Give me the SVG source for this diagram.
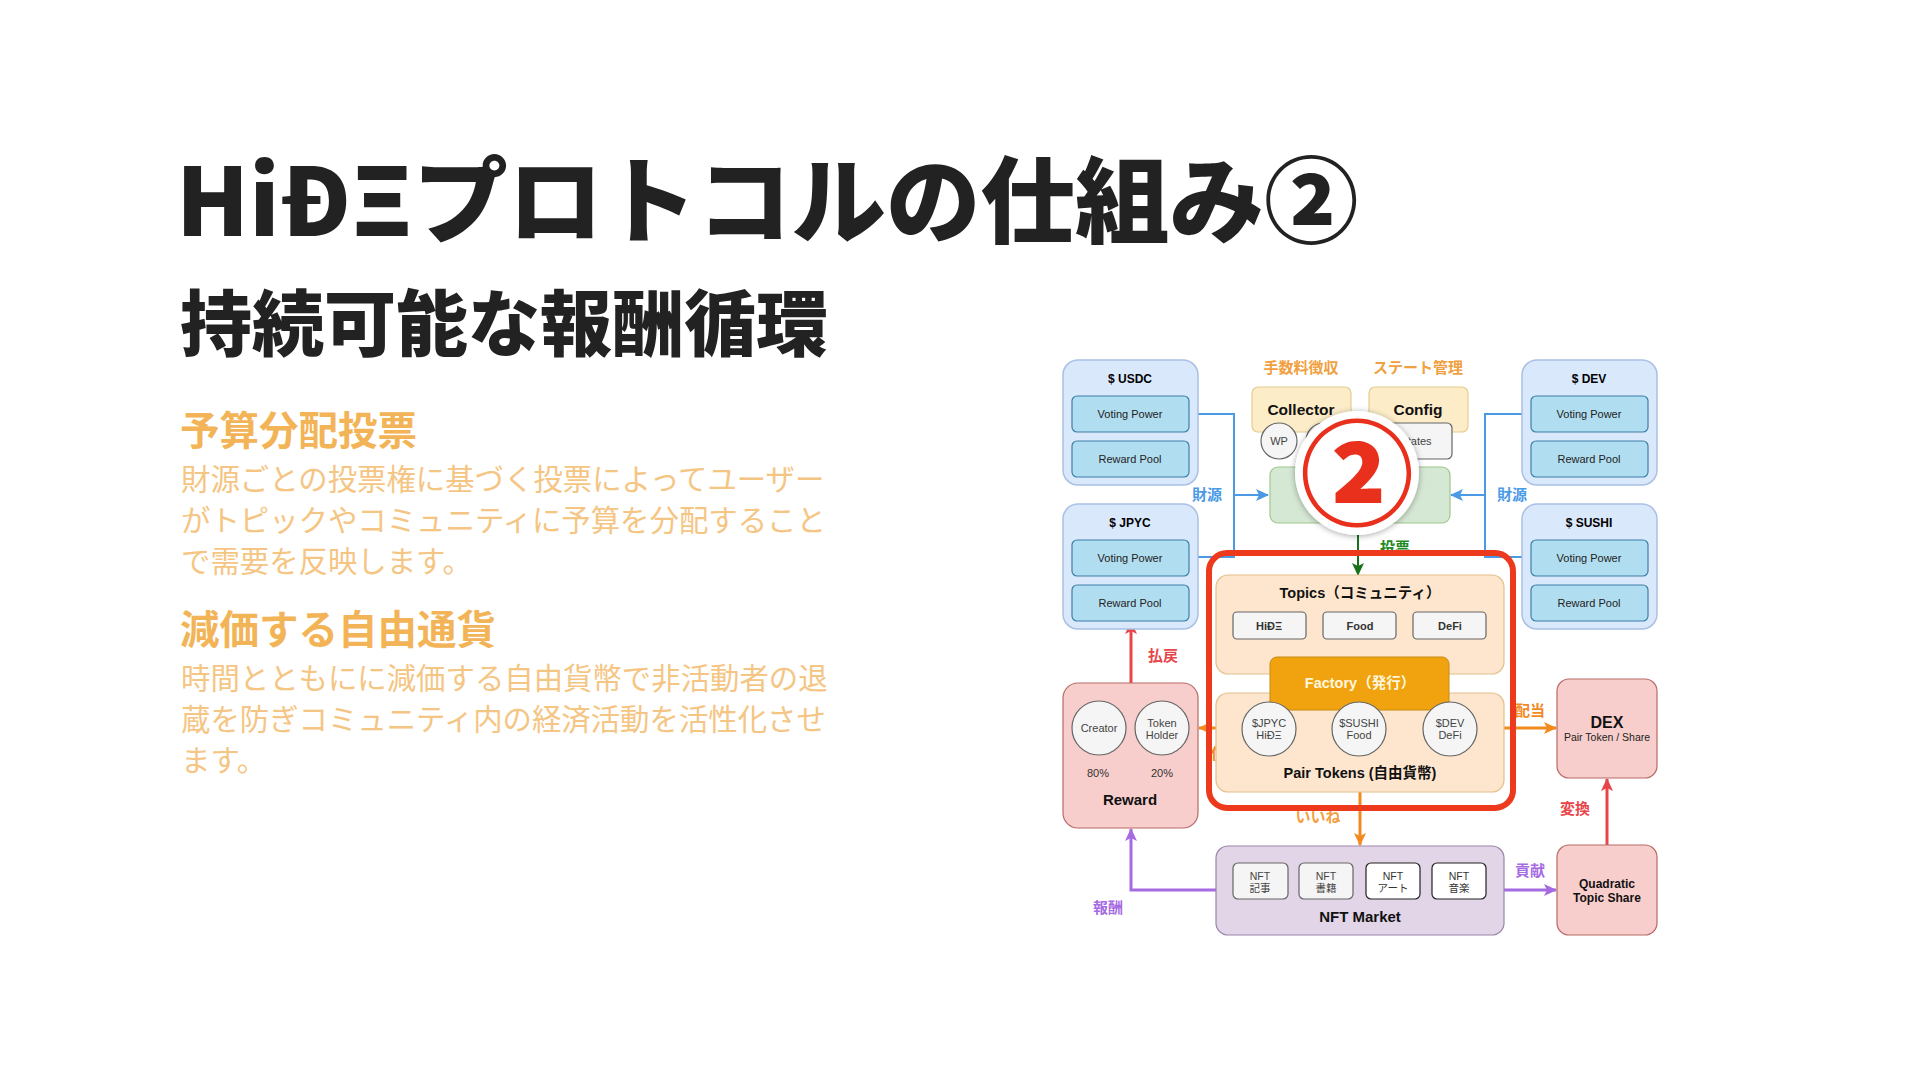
<svg xmlns="http://www.w3.org/2000/svg" width="1920" height="1080" viewBox="0 0 1920 1080">
<defs>
<style>
.title{font-family:"Noto Sans CJK JP","Noto Sans",sans-serif;font-weight:900;fill:#222}
.head{font-family:"Noto Sans CJK JP",sans-serif;font-weight:700;fill:#F2B457}
.body{font-family:"Noto Sans CJK JP",sans-serif;font-weight:400;fill:#F5C583}
.d{font-family:"Liberation Sans","Noto Sans CJK JP",sans-serif;text-anchor:middle}
.b{font-weight:700}
.tok{fill:#dae8fc;stroke:#a9c0e4;stroke-width:1.5}
.inner{fill:#b1ddf0;stroke:#3f7fa8;stroke-width:1.2}
.yel{fill:#fcecc8;stroke:#e6cc8e;stroke-width:1.2}
.gray{fill:#f5f5f5;stroke:#666;stroke-width:1.2}
.grn{fill:#d5e8d4;stroke:#9fc78c;stroke-width:1.2}
.peach{fill:#fde6cd;stroke:#e2c08c;stroke-width:1.2}
.pink{fill:#f8cecc;stroke:#b86a66;stroke-width:1.2}
.purp{fill:#e1d5e7;stroke:#9b84ab;stroke-width:1.2}
.lbl{font-family:"Noto Sans CJK JP",sans-serif;font-weight:700;font-size:15px;text-anchor:middle}
</style>
<marker id="aBlue" markerUnits="userSpaceOnUse" markerWidth="14" markerHeight="12" refX="12" refY="6" orient="auto"><path d="M0,0 L13,6 L0,12 L3,6 Z" fill="#4a9ae6"/></marker>
<marker id="aGreen" markerUnits="userSpaceOnUse" markerWidth="14" markerHeight="12" refX="12" refY="6" orient="auto"><path d="M0,0 L13,6 L0,12 L3,6 Z" fill="#16731a"/></marker>
<marker id="aRed" markerUnits="userSpaceOnUse" markerWidth="14" markerHeight="12" refX="12" refY="6" orient="auto"><path d="M0,0 L13,6 L0,12 L3,6 Z" fill="#e8454b"/></marker>
<marker id="aOrange" markerUnits="userSpaceOnUse" markerWidth="14" markerHeight="12" refX="12" refY="6" orient="auto"><path d="M0,0 L13,6 L0,12 L3,6 Z" fill="#f28a1e"/></marker>
<marker id="aPurple" markerUnits="userSpaceOnUse" markerWidth="14" markerHeight="12" refX="12" refY="6" orient="auto"><path d="M0,0 L13,6 L0,12 L3,6 Z" fill="#a66be3"/></marker>
<filter id="sh" x="-30%" y="-30%" width="160%" height="160%"><feGaussianBlur in="SourceAlpha" stdDeviation="3"/><feOffset dx="0" dy="1"/><feComponentTransfer><feFuncA type="linear" slope="0.35"/></feComponentTransfer><feMerge><feMergeNode/><feMergeNode in="SourceGraphic"/></feMerge></filter>
</defs>
<rect width="1920" height="1080" fill="#fff"/>

<g id="title">
<text class="title" x="176" y="236" font-size="94.5">HiĐΞプロトコルの仕組み②</text>
<text class="title" x="180" y="350" font-size="72">持続可能な報酬循環</text>
</g>
<g id="section1">
<text class="head" x="180" y="445" font-size="39.5">予算分配投票</text>
<text class="body" x="181" y="490" font-size="29.4">財源ごとの投票権に基づく投票によってユーザー</text>
<text class="body" x="181" y="531" font-size="29.4">がトピックやコミュニティに予算を分配すること</text>
<text class="body" x="181" y="572" font-size="29.4">で需要を反映します。</text>
</g>
<g id="section2">
<text class="head" x="180" y="644" font-size="39.5">減価する自由通貨</text>
<text class="body" x="181" y="689" font-size="29.4">時間とともにに減価する自由貨幣で非活動者の退</text>
<text class="body" x="181" y="730" font-size="29.4">蔵を防ぎコミュニティ内の経済活動を活性化させ</text>
<text class="body" x="181" y="771" font-size="29.4">ます。</text>
</g>

<g id="connectors" fill="none">
<path d="M1198,414 H1234 V557 H1198" stroke="#4a9ae6" stroke-width="2"/>
<path d="M1234,495 H1268" stroke="#4a9ae6" stroke-width="2" marker-end="url(#aBlue)"/>
<path d="M1522,414 H1485 V557 H1522" stroke="#4a9ae6" stroke-width="2"/>
<path d="M1485,495 H1451" stroke="#4a9ae6" stroke-width="2" marker-end="url(#aBlue)"/>
<path d="M1358,523 V575" stroke="#16731a" stroke-width="2" marker-end="url(#aGreen)"/>
<path d="M1131,683 V622" stroke="#e8454b" stroke-width="3" marker-end="url(#aRed)"/>
<path d="M1242,728 H1199" stroke="#f28a1e" stroke-width="3" marker-end="url(#aOrange)"/>
<path d="M1477,728 H1556" stroke="#f28a1e" stroke-width="3" marker-end="url(#aOrange)"/>
<path d="M1360,792 V845" stroke="#f28a1e" stroke-width="3" marker-end="url(#aOrange)"/>
<path d="M1216,890 H1131 V829" stroke="#a66be3" stroke-width="3" marker-end="url(#aPurple)"/>
<path d="M1504,890 H1556" stroke="#a66be3" stroke-width="3" marker-end="url(#aPurple)"/>
<path d="M1607,845 V779" stroke="#e8454b" stroke-width="3" marker-end="url(#aRed)"/>
</g>

<g id="edge-labels" class="lbl">
<text x="1207" y="500" fill="#4a9ae6">財源</text>
<text x="1512" y="500" fill="#4a9ae6">財源</text>
<text x="1395" y="553" fill="#1f8a25">投票</text>
<text x="1163" y="661" fill="#e8454b">払戻</text>
<text x="1226" y="759" fill="#f28a1e">償却</text>
<text x="1530" y="716" fill="#f28a1e">配当</text>
<text x="1318" y="822" fill="#f5a040">いいね</text>
<text x="1575" y="814" fill="#e8454b">変換</text>
<text x="1530" y="876" fill="#a66be3">貢献</text>
<text x="1108" y="913" fill="#a66be3">報酬</text>
</g>

<g id="usdc">
<rect class="tok" x="1063" y="360" width="135" height="125" rx="15"/>
<text class="d b" x="1130" y="383" font-size="12">$ USDC</text>
<rect class="inner" x="1072" y="396" width="117" height="36" rx="5"/>
<text class="d" x="1130" y="418" font-size="11" fill="#222">Voting Power</text>
<rect class="inner" x="1072" y="441" width="117" height="36" rx="5"/>
<text class="d" x="1130" y="463" font-size="11" fill="#222">Reward Pool</text>
</g>
<g id="jpyc">
<rect class="tok" x="1063" y="504" width="135" height="125" rx="15"/>
<text class="d b" x="1130" y="527" font-size="12">$ JPYC</text>
<rect class="inner" x="1072" y="540" width="117" height="36" rx="5"/>
<text class="d" x="1130" y="562" font-size="11" fill="#222">Voting Power</text>
<rect class="inner" x="1072" y="585" width="117" height="36" rx="5"/>
<text class="d" x="1130" y="607" font-size="11" fill="#222">Reward Pool</text>
</g>
<g id="dev">
<rect class="tok" x="1522" y="360" width="135" height="125" rx="15"/>
<text class="d b" x="1589" y="383" font-size="12">$ DEV</text>
<rect class="inner" x="1531" y="396" width="117" height="36" rx="5"/>
<text class="d" x="1589" y="418" font-size="11" fill="#222">Voting Power</text>
<rect class="inner" x="1531" y="441" width="117" height="36" rx="5"/>
<text class="d" x="1589" y="463" font-size="11" fill="#222">Reward Pool</text>
</g>
<g id="sushi">
<rect class="tok" x="1522" y="504" width="135" height="125" rx="15"/>
<text class="d b" x="1589" y="527" font-size="12">$ SUSHI</text>
<rect class="inner" x="1531" y="540" width="117" height="36" rx="5"/>
<text class="d" x="1589" y="562" font-size="11" fill="#222">Voting Power</text>
<rect class="inner" x="1531" y="585" width="117" height="36" rx="5"/>
<text class="d" x="1589" y="607" font-size="11" fill="#222">Reward Pool</text>
</g>

<g id="collector">
<text class="lbl" x="1301" y="373" fill="#f0a040" font-size="14">手数料徴収</text>
<rect class="yel" x="1252" y="387" width="99" height="45" rx="6"/>
<text class="d b" x="1301" y="415" font-size="15.5" fill="#111">Collector</text>
<circle class="gray" cx="1279" cy="441" r="18"/>
<text class="d" x="1279" y="445" font-size="11" fill="#444">WP</text>
<circle class="gray" cx="1324" cy="441" r="18"/>
</g>
<g id="config">
<text class="lbl" x="1418" y="373" fill="#f0a040" font-size="14">ステート管理</text>
<rect class="yel" x="1369" y="387" width="99" height="45" rx="6"/>
<text class="d b" x="1418" y="415" font-size="15.5" fill="#111">Config</text>
<rect class="gray" x="1380" y="423" width="72" height="36" rx="5"/>
<text class="d" x="1416" y="445" font-size="11" fill="#444">States</text>
</g>
<g id="voting">
<rect class="grn" x="1270" y="467" width="180" height="56" rx="8"/>
</g>

<g id="topics">
<rect class="peach" x="1216" y="575" width="288" height="99" rx="12"/>
<text class="d b" x="1360" y="598" font-size="14.5" fill="#111">Topics（コミュニティ）</text>
<rect class="gray" x="1233" y="612" width="73" height="27" rx="4" stroke="#888"/>
<text class="d b" x="1269" y="630" font-size="11" fill="#333">HiĐΞ</text>
<rect class="gray" x="1323" y="612" width="73" height="27" rx="4" stroke="#888"/>
<text class="d b" x="1360" y="630" font-size="11" fill="#333">Food</text>
<rect class="gray" x="1413" y="612" width="73" height="27" rx="4" stroke="#888"/>
<text class="d b" x="1450" y="630" font-size="11" fill="#333">DeFi</text>
</g>
<g id="pairtokens">
<rect class="peach" x="1216" y="693" width="288" height="99" rx="12"/>
<text class="d b" x="1360" y="778" font-size="14.5" fill="#111">Pair Tokens (自由貨幣)</text>
</g>
<g id="factory">
<rect x="1270" y="657" width="179" height="53" rx="7" fill="#f0a30f" stroke="#c98a10" stroke-width="1"/>
<text class="d b" x="1360" y="688" font-size="14.5" fill="#fff6dd">Factory（発行）</text>
</g>
<g id="pair-circles">
<circle class="gray" cx="1269" cy="729" r="27"/>
<text class="d" x="1269" y="727" font-size="11" fill="#444">$JPYC</text>
<text class="d" x="1269" y="739" font-size="11" fill="#444">HiĐΞ</text>
<circle class="gray" cx="1359" cy="729" r="27"/>
<text class="d" x="1359" y="727" font-size="11" fill="#444">$SUSHI</text>
<text class="d" x="1359" y="739" font-size="11" fill="#444">Food</text>
<circle class="gray" cx="1450" cy="729" r="27"/>
<text class="d" x="1450" y="727" font-size="11" fill="#444">$DEV</text>
<text class="d" x="1450" y="739" font-size="11" fill="#444">DeFi</text>
</g>

<g id="reward">
<rect class="pink" x="1063" y="683" width="135" height="145" rx="15"/>
<circle class="gray" cx="1099" cy="728" r="27"/>
<text class="d" x="1099" y="732" font-size="11" fill="#444">Creator</text>
<circle class="gray" cx="1162" cy="728" r="27"/>
<text class="d" x="1162" y="727" font-size="11" fill="#444">Token</text>
<text class="d" x="1162" y="739" font-size="11" fill="#444">Holder</text>
<text class="d" x="1098" y="777" font-size="11" fill="#333">80%</text>
<text class="d" x="1162" y="777" font-size="11" fill="#333">20%</text>
<text class="d b" x="1130" y="805" font-size="15" fill="#111">Reward</text>
</g>
<g id="dex">
<rect class="pink" x="1557" y="679" width="100" height="99" rx="12"/>
<text class="d b" x="1607" y="728" font-size="16" fill="#111">DEX</text>
<text class="d" x="1607" y="741" font-size="10.5" fill="#222">Pair Token / Share</text>
</g>
<g id="quadratic">
<rect class="pink" x="1557" y="845" width="100" height="90" rx="12"/>
<text class="d b" x="1607" y="888" font-size="12" fill="#111">Quadratic</text>
<text class="d b" x="1607" y="902" font-size="12" fill="#111">Topic Share</text>
</g>
<g id="nftmarket">
<rect class="purp" x="1216" y="846" width="288" height="89" rx="12"/>
<rect class="gray" x="1233" y="863" width="55" height="36" rx="5" stroke="#888"/>
<text class="d" x="1260" y="880" font-size="10.5" fill="#444">NFT</text>
<text class="d" x="1260" y="892" font-size="10.5" fill="#444">記事</text>
<rect class="gray" x="1299" y="863" width="54" height="36" rx="5" stroke="#888"/>
<text class="d" x="1326" y="880" font-size="10.5" fill="#444">NFT</text>
<text class="d" x="1326" y="892" font-size="10.5" fill="#444">書籍</text>
<rect x="1366" y="863" width="54" height="36" rx="5" fill="#fff" stroke="#222" stroke-width="1.2"/>
<text class="d" x="1393" y="880" font-size="10.5" fill="#333">NFT</text>
<text class="d" x="1393" y="892" font-size="10.5" fill="#333">アート</text>
<rect x="1432" y="863" width="54" height="36" rx="5" fill="#fff" stroke="#222" stroke-width="1.2"/>
<text class="d" x="1459" y="880" font-size="10.5" fill="#333">NFT</text>
<text class="d" x="1459" y="892" font-size="10.5" fill="#333">音楽</text>
<text class="d b" x="1360" y="922" font-size="15" fill="#111">NFT Market</text>
</g>

<g id="highlight">
<rect x="1209" y="553" width="304" height="255" rx="18" fill="none" stroke="#ee3a1c" stroke-width="6"/>
</g>
<g id="badge">
<circle cx="1357" cy="473" r="62" fill="#fff" filter="url(#sh)"/>
<text x="1357" y="516" font-family="Noto Sans CJK JP,sans-serif" font-weight="900" font-size="114" fill="#e8301c" text-anchor="middle">②</text>
</g>
</svg>
